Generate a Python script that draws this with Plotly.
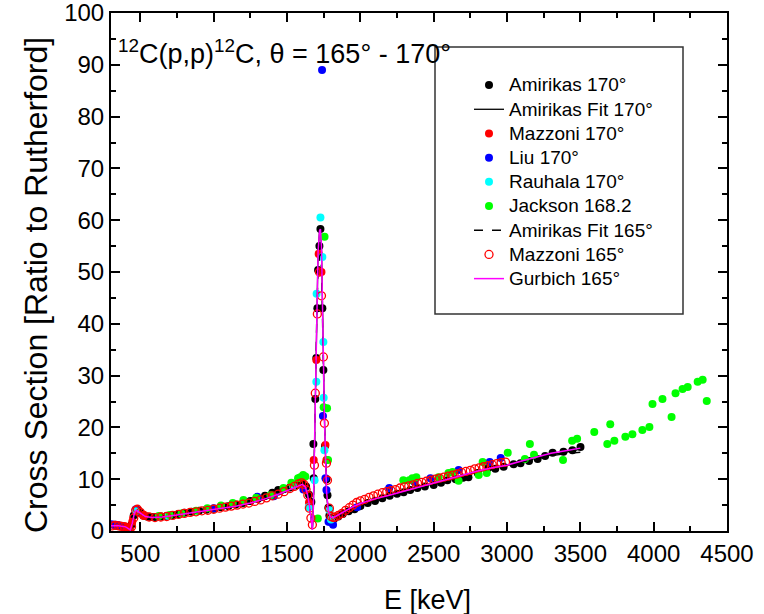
import plotly.graph_objects as go

# ---------------- data ----------------
amir170_E = [340, 360, 380, 400, 420, 440, 455, 470, 485, 500, 520, 545, 570, 600, 640, 680, 720, 760, 800, 850,
             900, 950, 1000, 1050, 1100, 1150, 1200, 1250, 1300, 1350, 1400, 1440, 1480, 1520, 1560, 1600, 1630,
             1650, 1666, 1680, 1682, 1693, 1700, 1707, 1712, 1721, 1728, 1741, 1748, 1759, 1769, 1776, 1782, 1789,
             1800, 1820, 1850, 1880, 1920, 1960, 2000, 2050, 2100, 2150, 2200, 2250, 2295, 2340, 2389, 2440, 2500,
             2550, 2594, 2650, 2700, 2737, 2800, 2874, 2920, 2977, 3045, 3092, 3150, 3209, 3260, 3311, 3385, 3446, 3501]
amir170_Y = [1.0, 1.0, 0.9, 0.7, 0.4, 1.2, 3.0, 4.1, 4.0, 3.5, 3.0, 2.8, 2.7, 2.7, 2.8, 2.9, 3.1, 3.3, 3.5, 3.7,
             3.9, 4.1, 4.3, 4.6, 4.8, 5.1, 5.4, 5.8, 6.2, 6.8, 7.4, 7.9, 8.1, 8.4, 8.8, 9.2, 8.6,
             7.0, 5.6, 16.8, 10.2, 25.5, 33.4, 43.0, 50.4, 55.0, 58.3, 43.0, 31.1, 16.4, 10.0, 6.9, 4.5, 3.0,
             2.0, 2.3, 2.8, 3.3, 3.8, 4.2, 4.8, 5.4, 5.8, 6.3, 6.8, 7.2, 7.5, 7.9, 8.3, 8.6, 8.9,
             9.3, 9.8, 10.0, 10.3, 10.4, 11.2, 12.2, 12.0, 12.4, 12.9, 13.1, 13.5, 13.9, 14.5, 15.1, 15.3, 15.6, 16.2]

fit170_E = [350, 380, 400, 420, 432, 445, 460, 473, 490, 510, 534, 580, 650, 750, 850, 950, 1050, 1150, 1250,
            1350, 1450, 1530, 1580, 1605, 1625, 1640, 1655, 1665, 1673, 1680, 1687, 1695, 1703, 1712, 1722, 1728,
            1735, 1742, 1748, 1755, 1762, 1770, 1780, 1790, 1800, 1815, 1830, 1860, 1900, 1950, 2000, 2100, 2200,
            2300, 2400, 2500, 2600, 2700, 2800, 2900, 3000, 3100, 3200, 3300, 3400, 3500]
fit170_Y = [1.0, 0.9, 0.8, 0.5, 0.3, 1.4, 3.4, 4.0, 3.7, 3.2, 2.8, 2.6, 2.7, 3.1, 3.5, 3.9, 4.3, 4.8, 5.4,
            6.2, 7.2, 8.2, 8.8, 9.0, 8.5, 7.0, 4.5, 2.2, 0.3, 5.0, 15.0, 30.0, 45.0, 54.0, 58.0, 58.3,
            55.0, 46.0, 34.0, 22.0, 13.0, 7.5, 4.2, 3.0, 2.5, 2.5, 2.7, 3.2, 3.8, 4.6, 5.2, 6.1, 6.9,
            7.6, 8.4, 9.2, 10.0, 10.7, 11.4, 12.0, 12.7, 13.4, 14.1, 14.7, 15.2, 15.8]

maz170_E = [320, 345, 370, 395, 420, 445, 470, 520, 1650, 1682, 1700, 1716, 1735, 1762, 1769, 1790]
maz170_Y = [1.2, 1.1, 1.0, 0.9, 0.6, 1.8, 4.0, 3.0, 5.5, 13.7, 33.0, 53.5, 50.0, 16.6, 13.7, 4.0]

liu170_E = [300, 315, 330, 345, 360, 470, 1000, 1297, 1410, 1612, 1739, 1745, 1762, 1769, 1783, 1791, 1803, 1814,
            1978, 2197, 2368, 2478, 2670, 2882, 2957]
liu170_Y = [1.3, 1.2, 1.2, 1.1, 1.0, 4.2, 4.4, 6.6, 6.7, 8.0, 89.0, 22.2, 10.2, 7.9, 1.8, 1.8, 1.9, 1.2,
            4.6, 8.3, 9.5, 10.2, 11.8, 13.3, 14.1]

rau170_E = [470, 690, 1540, 1648, 1688, 1700, 1702, 1728, 1741, 1748, 1750, 1755, 1790, 1800]
rau170_Y = [3.8, 2.9, 8.8, 4.6, 9.8, 28.8, 45.8, 60.5, 52.9, 36.5, 25.7, 15.6, 4.0, 2.2]

jack_E = [625, 700, 780, 880, 957, 1050, 1130, 1203, 1290, 1387, 1476, 1530, 1575, 1591, 1610, 1625, 1710, 1750,
          1756, 1773, 1780, 2293, 2334, 2355, 2382, 2533, 2601, 2629, 2670, 2807, 2834, 2862, 3005, 3122, 3156,
          3184, 3382, 3444, 3478, 3595, 3684, 3704, 3732, 3807, 3855, 3923, 3971, 3992, 4060, 4122, 4149, 4197,
          4232, 4300, 4334, 4362]
jack_Y = [2.9, 3.1, 3.4, 3.9, 4.4, 4.9, 5.4, 6.0, 6.4, 6.9, 8.3, 9.3, 10.2, 10.4, 10.8, 10.5, 2.4, 23.9,
          56.8, 23.7, 13.7, 9.8, 9.8, 10.2, 10.4, 10.4, 11.2, 11.4, 9.7, 10.8, 13.3, 11.2, 15.1, 13.9, 16.8,
          14.7, 13.7, 17.4, 17.8, 19.1, 16.8, 20.6, 17.4, 18.2, 18.7, 19.5, 20.1, 24.5, 25.5, 22.0, 26.6, 27.4,
          27.8, 28.8, 29.2, 25.1]

fit165_E = [350, 380, 400, 420, 432, 445, 460, 473, 490, 510, 534, 580, 650, 750, 850, 950, 1050, 1150, 1250,
            1350, 1450, 1530, 1580, 1605, 1625, 1640, 1655, 1665, 1673, 1680, 1687, 1695, 1703, 1712, 1722, 1728,
            1735, 1742, 1748, 1755, 1762, 1770, 1780, 1790, 1800, 1815, 1830, 1860, 1900, 1950, 2000, 2100, 2200,
            2300, 2400, 2500, 2600, 2700, 2800, 2900, 3000, 3100, 3200, 3300, 3400, 3500]
fit165_Y = [1.0, 0.9, 0.8, 0.5, 0.3, 1.5, 3.5, 4.1, 3.8, 3.2, 2.8, 2.6, 2.7, 3.0, 3.4, 3.8, 4.3, 4.8, 5.3,
            6.1, 7.0, 8.1, 8.8, 9.1, 8.6, 7.1, 4.6, 2.3, 0.4, 4.5, 13.5, 28.0, 42.0, 50.0, 53.0, 53.5,
            50.5, 43.0, 32.0, 21.0, 12.5, 7.5, 4.2, 3.0, 2.6, 2.6, 2.8, 3.3, 3.9, 4.7, 5.3, 6.2, 7.0,
            7.7, 8.5, 9.3, 10.1, 10.8, 11.5, 12.1, 12.8, 13.4, 14.0, 14.5, 14.9, 15.2]

maz165_E = [310, 330, 350, 370, 390, 410, 425, 440, 455, 468, 480, 500, 525, 560, 600, 640, 680, 720, 760, 800,
            840, 880, 920, 960, 1000, 1040, 1080, 1120, 1160, 1200, 1240, 1280, 1320, 1360, 1400, 1440, 1480, 1520,
            1550, 1580, 1600, 1615, 1630, 1642, 1653, 1663, 1673, 1687, 1693, 1707, 1721, 1735, 1748, 1755, 1769,
            1776, 1789, 1800, 1815, 1830, 1850, 1875, 1900, 1925, 1950, 1975, 2000, 2030, 2060, 2090, 2120, 2150,
            2180, 2210, 2240, 2270, 2300, 2330, 2360, 2390, 2420, 2450, 2480, 2510, 2540, 2570, 2600, 2630, 2660,
            2690, 2720, 2750, 2780, 2810, 2840, 2870, 2900, 2930, 2960, 2990]
maz165_Y = [1.0, 1.1, 1.0, 0.9, 0.8, 0.6, 0.4, 0.8, 2.5, 4.0, 4.2, 3.6, 3.0, 2.7, 2.6, 2.7, 2.8, 3.0, 3.2, 3.4,
            3.6, 3.7, 3.9, 4.0, 4.2, 4.4, 4.6, 4.8, 5.0, 5.2, 5.4, 5.7, 6.0, 6.4, 6.8, 7.1, 7.6, 8.2,
            8.6, 9.1, 9.3, 9.0, 8.0, 6.9, 4.4, 2.5, 1.2, 12.7, 26.6, 41.9, 50.0, 45.4, 33.6, 20.8, 13.1,
            9.8, 4.4, 2.8, 2.6, 2.7, 3.0, 3.4, 4.0, 4.5, 5.0, 5.5, 5.8, 6.1, 6.5, 6.8, 7.1, 7.4,
            7.6, 7.8, 8.0, 8.3, 8.5, 8.7, 8.9, 9.2, 9.4, 9.6, 9.8, 10.0, 10.2, 10.4, 10.6, 10.8, 11.0,
            11.3, 11.5, 11.7, 12.0, 12.2, 12.4, 12.6, 12.8, 13.0, 13.2, 13.3]

gur165_E = [300, 350, 400, 432, 445, 460, 473, 490, 510, 534, 580, 650, 750, 850, 950, 1050, 1150, 1250, 1350,
            1450, 1530, 1580, 1605, 1625, 1640, 1655, 1665, 1673, 1680, 1687, 1695, 1703, 1712, 1722, 1728, 1735,
            1742, 1748, 1755, 1762, 1770, 1780, 1790, 1800, 1815, 1830, 1860, 1900, 1950, 2000, 2100, 2197, 2300,
            2400, 2500, 2600, 2700, 2800, 2900, 2999, 3100, 3200, 3300, 3400, 3500]
gur165_Y = [1.0, 1.0, 0.8, 0.2, 1.5, 3.5, 4.0, 3.7, 3.2, 2.8, 2.6, 2.7, 3.1, 3.5, 3.9, 4.3, 4.8, 5.4, 6.2,
            7.2, 8.2, 8.8, 9.0, 8.5, 7.0, 4.5, 2.2, 0.2, 5.0, 15.0, 30.0, 45.0, 54.0, 58.0, 58.3, 55.0,
            46.0, 34.0, 22.0, 13.0, 7.5, 4.2, 3.0, 2.6, 2.6, 2.8, 3.3, 3.9, 4.7, 5.3, 6.2, 6.9, 7.7,
            8.5, 9.3, 10.1, 10.9, 11.6, 12.2, 12.7, 13.5, 14.3, 15.0, 15.5, 16.0]

x_ticks = [500, 1000, 1500, 2000, 2500, 3000, 3500, 4000, 4500]
y_ticks = [0, 10, 20, 30, 40, 50, 60, 70, 80, 90, 100]

# ---------------- figure ----------------
FONT = "Liberation Sans, Arial, sans-serif"
MS = 8

# plot area in page pixels: x 111..727, y 13..531
W, H = 764, 614
PL, PR, PT, PB = 111, 727, 13, 531
PW, PH = PR - PL, PB - PT


def px(x):
    return (x - PL) / PW


def py(y):
    return (PB - y) / PH


def leg(name):
    return '<span style="font-size:19px">' + name + '</span>'


fig = go.Figure()
fig.add_trace(go.Scatter(x=amir170_E, y=amir170_Y, mode="markers", name=leg("Amirikas 170°"),
                         marker=dict(color="black", size=MS)))
fig.add_trace(go.Scatter(x=fit170_E, y=fit170_Y, mode="lines", name=leg("Amirikas Fit 170°"),
                         line=dict(color="black", width=1.3)))
fig.add_trace(go.Scatter(x=maz170_E, y=maz170_Y, mode="markers", name=leg("Mazzoni 170°"),
                         marker=dict(color="#ff0000", size=MS)))
fig.add_trace(go.Scatter(x=liu170_E, y=liu170_Y, mode="markers", name=leg("Liu 170°"),
                         marker=dict(color="#0000ff", size=MS)))
fig.add_trace(go.Scatter(x=rau170_E, y=rau170_Y, mode="markers", name=leg("Rauhala 170°"),
                         marker=dict(color="#00ffff", size=MS)))
fig.add_trace(go.Scatter(x=jack_E, y=jack_Y, mode="markers", name=leg("Jackson 168.2"),
                         marker=dict(color="#00ff00", size=MS)))
fig.add_trace(go.Scatter(x=fit165_E, y=fit165_Y, mode="lines", name=leg("Amirikas Fit 165°"),
                         line=dict(color="black", width=1.3, dash="dash")))
fig.add_trace(go.Scatter(x=maz165_E, y=maz165_Y, mode="markers", name=leg("Mazzoni 165°"),
                         marker=dict(color="#ff0000", size=MS, symbol="circle-open", line=dict(width=1.3))))
fig.add_trace(go.Scatter(x=gur165_E, y=gur165_Y, mode="lines", name=leg("Gurbich 165°"),
                         line=dict(color="#ff00ff", width=1.5)))

axis_common = dict(showline=True, linecolor="black", linewidth=2, mirror="ticks", ticks="inside",
                   ticklen=9, tickwidth=1.5, tickcolor="black", showgrid=False, zeroline=False,
                   ticklabeloverflow="allow",
                   tickfont=dict(family=FONT, size=24, color="black"))

fig.update_xaxes(range=[300, 4500], tickvals=x_ticks,
                 minor=dict(ticks="inside", dtick=250, tick0=0, ticklen=5, tickwidth=1.5, tickcolor="black"),
                 **axis_common)
fig.update_yaxes(range=[0, 100], tickvals=y_ticks,
                 minor=dict(ticks="inside", dtick=5, tick0=0, ticklen=5, tickwidth=1.5, tickcolor="black"),
                 **axis_common)

# axis titles
fig.add_annotation(xref="paper", yref="paper", x=px(427), y=py(600), xanchor="center", yanchor="middle",
                   showarrow=False, text="E [keV]", font=dict(family=FONT, size=27, color="black"))
fig.add_annotation(xref="paper", yref="paper", x=px(36), y=py(285), xanchor="center", yanchor="middle",
                   showarrow=False, textangle=-90, text="Cross Section [Ratio to Rutherford]",
                   font=dict(family=FONT, size=32, color="black"))

# legend frame
fig.add_shape(type="rect", xref="paper", yref="paper",
              x0=px(435), x1=px(683), y0=py(314), y1=py(47),
              line=dict(color="#333333", width=1.5), fillcolor="rgba(0,0,0,0)", layer="below")

fig.add_annotation(xref="paper", yref="paper", x=px(116), y=py(52),
                   xanchor="left", yanchor="middle", showarrow=False,
                   text="<sup>12</sup>C(p,p)<sup>12</sup>C, θ = 165° - 170°",
                   font=dict(family=FONT, size=27, color="black"))

fig.update_layout(
    width=W, height=H,
    margin=dict(l=PL, r=W - PR, t=PT, b=H - PB, autoexpand=False),
    plot_bgcolor="white", paper_bgcolor="white",
    font=dict(family=FONT, color="black"),
    legend=dict(x=px(469), y=py(68), xanchor="left", yanchor="top",
                bgcolor="rgba(0,0,0,0)", borderwidth=0, font=dict(family=FONT, size=16.3, color="black"),
                tracegroupgap=0),
    showlegend=True,
)

fig.write_html("out.html", config={"displayModeBar": False},
               post_script="document.body.style.margin='0';document.body.style.overflow='hidden';")
